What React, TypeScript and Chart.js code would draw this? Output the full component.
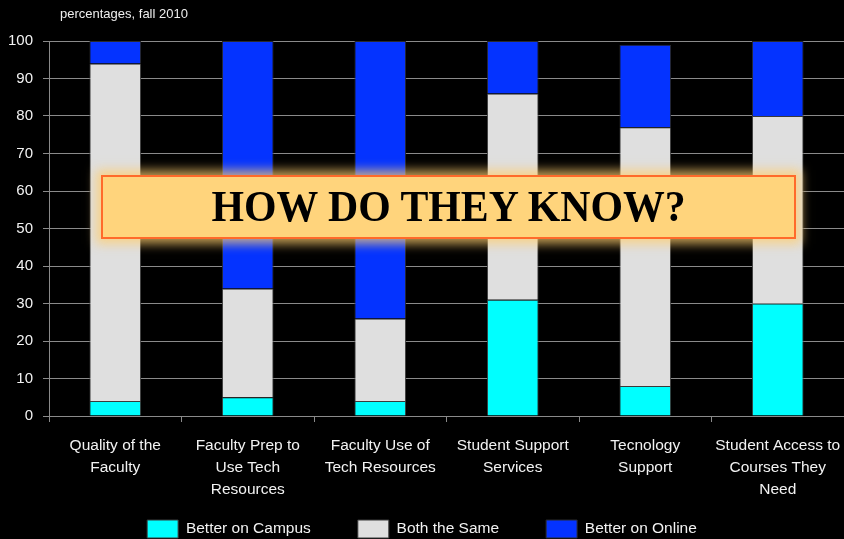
import React, { useEffect, useRef } from "react";
import { Chart, registerables } from "chart.js";

Chart.register(...registerables);

const categories: string[][] = [
  ["Quality of the", "Faculty"],
  ["Faculty Prep to", "Use Tech", "Resources"],
  ["Faculty Use of", "Tech Resources"],
  ["Student Support", "Services"],
  ["Tecnology", "Support"],
  ["Student Access to", "Courses They", "Need"],
];

const seriesNames = ["Better on Campus", "Both the Same", "Better on Online"];
const betterOnCampus = [4, 5, 4, 31, 8, 30];
const bothTheSame = [90, 29, 22, 55, 69, 50];
const betterOnline = [6, 66, 74, 14, 22, 20];

const yTicksMin = 0;
const yTicksMax = 100;
const yTicksStep = 10;

const subtitle = "percentages, fall 2010";
const overlayText = "HOW DO THEY KNOW?";

const FONT = "'Liberation Sans', Arial, sans-serif";

const legendShift = {
  id: "legendShift",
  afterLayout(chart: any) {
    const l = chart.legend;
    if (l) {
      l.top -= 31;
      l.bottom -= 31;
    }
  },
};

export default function App() {
  const canvasRef = useRef<HTMLCanvasElement | null>(null);

  useEffect(() => {
    document.body.style.margin = "0";
    document.body.style.background = "#000";
    const canvas = canvasRef.current;
    if (!canvas) return;
    const chart = new Chart(canvas, {
      type: "bar",
      data: {
        labels: categories,
        datasets: [
          {
            label: seriesNames[0],
            data: betterOnCampus,
            backgroundColor: "#00FFFF",
            borderColor: "#3a3a3a",
            borderWidth: 1,
          },
          {
            label: seriesNames[1],
            data: bothTheSame,
            backgroundColor: "#DFDFDF",
            borderColor: "#3a3a3a",
            borderWidth: 1,
          },
          {
            label: seriesNames[2],
            data: betterOnline,
            backgroundColor: "#0433FF",
            borderColor: "#2a2a2a",
            borderWidth: 1,
          },
        ],
      },
      options: {
        responsive: false,
        animation: false,
        layout: { padding: { top: 41, left: 0, right: 0, bottom: 0 } },
        datasets: {
          bar: { barPercentage: 0.39, categoryPercentage: 1 },
        },
        scales: {
          x: {
            stacked: true,
            afterFit: (scale: any) => {
              scale.height = 88;
              scale.paddingRight = 0;
              scale.paddingLeft = 0;
            },
            grid: {
              drawOnChartArea: false,
              drawTicks: true,
              tickLength: 6,
              color: "#8a8a8a",
              offset: true,
            },
            border: { color: "#8a8a8a", width: 1 },
            ticks: {
              color: "#f2f2f2",
              padding: 12,
              maxRotation: 0,
              autoSkip: false,
              font: { family: FONT, size: 15.5, lineHeight: 1.45 },
            },
          },
          y: {
            stacked: true,
            min: yTicksMin,
            max: yTicksMax,
            afterFit: (scale: any) => {
              scale.width = 49;
            },
            grid: {
              color: "#8a8a8a",
              lineWidth: 1,
              tickLength: 6,
            },
            border: { color: "#8a8a8a", width: 1 },
            ticks: {
              stepSize: yTicksStep,
              color: "#f2f2f2",
              padding: 10,
              font: { family: FONT, size: 15 },
            },
          },
        },
        plugins: {
          legend: {
            position: "bottom",
            labels: {
              boxWidth: 31,
              boxHeight: 18,
              padding: 47,
              color: "#f2f2f2",
              font: { family: FONT, size: 15.5 },
            },
          },
          title: { display: false },
          tooltip: { enabled: false },
        },
      },
      plugins: [legendShift],
    });
    return () => chart.destroy();
  }, []);

  return (
    <div
      style={{
        position: "fixed",
        left: 0,
        top: 0,
        width: 844,
        height: 539,
        overflow: "hidden",
        background: "#000",
      }}
    >
      <canvas
        ref={canvasRef}
        width={844}
        height={579}
        style={{ position: "absolute", left: 0, top: 0, width: 844, height: 579 }}
      />
      <div
        style={{
          position: "absolute",
          left: 60,
          top: 6,
          fontFamily: FONT,
          fontSize: 13,
          lineHeight: "16px",
          color: "#eeeeee",
          whiteSpace: "nowrap",
        }}
      >
        {subtitle}
      </div>
      <div
        style={{
          position: "absolute",
          left: 101,
          top: 175,
          width: 695,
          height: 64,
          boxSizing: "border-box",
          border: "2px solid #FF6A2A",
          background: "#FFD47C",
          boxShadow: "0 0 10px 5px rgba(255, 205, 110, 0.75)",
          display: "flex",
          alignItems: "center",
          justifyContent: "center",
        }}
      >
        <span
          style={{
            fontFamily: "'Liberation Serif', 'Times New Roman', serif",
            fontWeight: "bold",
            fontSize: 44,
            lineHeight: "44px",
            color: "#000",
            display: "inline-block",
            transform: "scaleX(0.95)",
            whiteSpace: "nowrap",
          }}
        >
          {overlayText}
        </span>
      </div>
    </div>
  );
}
